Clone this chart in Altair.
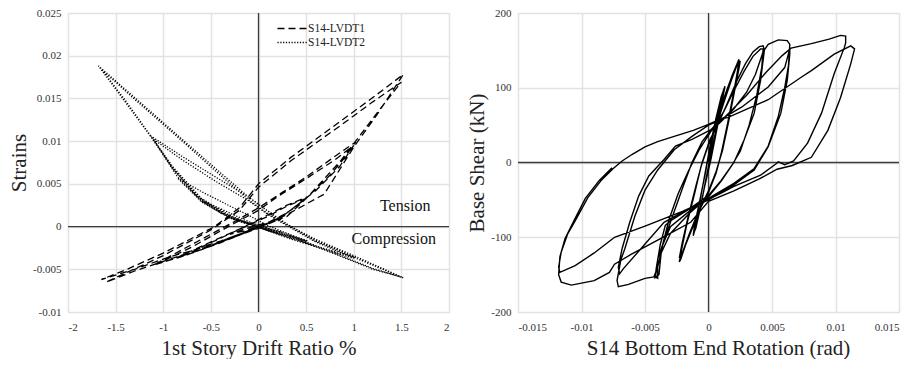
import altair as alt
import pandas as pd

# ---------------- data ----------------
series_names = ["S14-LVDT1", "S14-LVDT2"]

# LVDT1 (dashed): drift ratio %, strain
lvdt1 = [
    (0, 0), (0.1, 0.0003), (0.25, 0.001), (0.1, 0.0005), (0, 0.0002), (-0.15, -0.0003), (-0.3, -0.0009), (-0.15, -0.0005), (0, 0),
    (0.15, 0.0006), (0.3, 0.0016), (0.5, 0.0033), (0.3, 0.0024), (0.1, 0.0012), (-0.1, 0.0002), (-0.35, -0.0011), (-0.6, -0.0024), (-0.4, -0.0017), (-0.15, -0.0007), (0, -0.0001),
    (0.2, 0.0009), (0.35, 0.002), (0.52, 0.0035), (0.3, 0.0025), (0.05, 0.0011), (-0.2, -0.0003), (-0.5, -0.0018), (-0.85, -0.0036), (-0.6, -0.0027), (-0.3, -0.0014), (0, -0.0002),
    (0.25, 0.0012), (0.5, 0.0033), (0.75, 0.006), (0.9, 0.008), (1.02, 0.0099), (0.8, 0.0082), (0.5, 0.0058), (0.25, 0.004), (0, 0.0022), (-0.2, 0.0009), (-0.5, -0.0009), (-0.8, -0.0027), (-1.1, -0.0045), (-0.8, -0.0035), (-0.5, -0.0023), (-0.2, -0.0009), (0, -0.0001),
    (0.3, 0.0016), (0.6, 0.0042), (0.85, 0.007), (1.0, 0.0095), (0.8, 0.0078), (0.5, 0.0056), (0.2, 0.0035), (0, 0.0019), (-0.3, 0.0001), (-0.7, -0.0024), (-1.05, -0.0043), (-0.75, -0.0033), (-0.4, -0.0019), (0, -0.0001),
    (0.3, 0.0014), (0.69, 0.0038), (1.0, 0.0093), (1.25, 0.0132), (1.52, 0.0178), (1.2, 0.0151), (0.87, 0.0124), (0.34, 0.0081), (0, 0.005), (-0.2, 0.0022), (-0.46, 0.0), (-1.0, -0.0031), (-1.4, -0.0051), (-1.65, -0.0062), (-1.3, -0.005), (-0.95, -0.0036), (-0.5, -0.0022), (-0.2, -0.0009), (0, 0),
    (0.3, 0.0012), (0.52, 0.0035), (0.87, 0.0078), (1.32, 0.0144), (1.5, 0.0169), (1.2, 0.0146), (0.87, 0.0119), (0.34, 0.0077), (0, 0.0046), (-0.2, 0.0019), (-0.5, -0.0004), (-1.0, -0.0034), (-1.6, -0.0065), (-1.3, -0.0052), (-0.9, -0.0037), (-0.5, -0.0022), (0, 0),
]

# LVDT2 (dotted): drift ratio %, strain
lvdt2 = [
    (0, 0), (-0.15, 0.0004), (-0.3, 0.001), (-0.15, 0.0006), (0, 0.0002), (0.1, -0.0002), (0.25, -0.0007), (0.1, -0.0004), (0, 0),
    (-0.2, 0.0006), (-0.4, 0.0016), (-0.6, 0.003), (-0.4, 0.0021), (-0.15, 0.0008), (0, 0.0001), (0.25, -0.0007), (0.5, -0.0017), (0.3, -0.0011), (0, 0),
    (-0.3, 0.001), (-0.6, 0.0029), (-0.85, 0.0057), (-0.6, 0.0041), (-0.3, 0.0024), (-0.1, 0.0013), (0.1, 0.0001), (0.3, -0.0008), (0.52, -0.0017), (0.3, -0.001), (0, -0.0001),
    (-0.3, 0.0011), (-0.6, 0.003), (-0.85, 0.0058), (-1.13, 0.0106), (-0.8, 0.0082), (-0.45, 0.0058), (-0.11, 0.0035), (0.1, 0.0018), (0.3, 0.0003), (0.6, -0.0017), (1.02, -0.0036), (0.7, -0.0026), (0.35, -0.0014), (0, -0.0001),
    (-0.35, 0.0014), (-0.65, 0.0036), (-0.9, 0.0068), (-1.1, 0.0102), (-0.8, 0.0078), (-0.45, 0.0053), (-0.1, 0.003), (0.1, 0.0014), (0.3, 0.0001), (0.6, -0.0018), (1.0, -0.0037), (0.7, -0.0027), (0.35, -0.0015), (0, -0.0001),
    (-0.3, 0.0012), (-0.6, 0.0031), (-0.9, 0.0068), (-1.13, 0.0105), (-1.4, 0.0146), (-1.68, 0.0188), (-1.3, 0.0151), (-0.8, 0.0102), (-0.4, 0.0063), (-0.11, 0.0035), (0.1, 0.0018), (0.27, 0.0004), (0.6, -0.0015), (1.0, -0.0034), (1.5, -0.0059), (1.2, -0.005), (0.8, -0.0032), (0.4, -0.0015), (0, -0.0001),
    (-0.3, 0.0013), (-0.6, 0.0033), (-0.9, 0.007), (-1.15, 0.0109), (-1.4, 0.0148), (-1.64, 0.0183), (-1.3, 0.0149), (-0.8, 0.01), (-0.4, 0.006), (-0.1, 0.0031), (0.1, 0.0015), (0.3, 0.0002), (0.6, -0.0016), (1.0, -0.0036), (1.52, -0.006), (1.2, -0.0049), (0.8, -0.0031), (0.4, -0.0014), (0, 0),
]

# right panel: rotation (rad), base shear (kN)
rot_shear = [
    (0, 0), (0.0004, 40), (0.0009, 80), (0.0012, 98), (0.001, 80), (0.0006, 45), (0.0002, 12), (-0.0002, -22), (-0.0006, -58), (-0.001, -88), (-0.0012, -96), (-0.001, -80), (-0.0006, -45), (-0.0002, -8), (0.0002, 28),
    (0.0006, 60), (0.001, 88), (0.0013, 102), (0.0011, 85), (0.0007, 48), (0.0002, 5), (-0.0003, -32), (-0.0008, -72), (-0.0012, -98), (-0.0011, -84), (-0.0007, -52), (-0.0002, -10), (0.0002, 30),
    (0.0008, 66), (0.0014, 95), (0.0019, 118), (0.0023, 134), (0.0024, 138), (0.0023, 124), (0.002, 95), (0.0015, 52), (0.001, 12), (0.0006, -14), (0, -40), (-0.0006, -60), (-0.0012, -85), (-0.0018, -110), (-0.0022, -130), (-0.0023, -133), (-0.0021, -115), (-0.0017, -82), (-0.0011, -42), (-0.0006, -6), (0, 24), (0.0006, 48),
    (0.0012, 80), (0.0018, 110), (0.0022, 128), (0.0025, 136), (0.0024, 126), (0.0021, 100), (0.0016, 56), (0.0011, 16), (0.0006, -12), (0, -38), (-0.0008, -66), (-0.0015, -95), (-0.002, -118), (-0.0023, -128), (-0.0021, -110), (-0.0016, -72), (-0.001, -32), (-0.0005, 0), (0.0001, 30), (0.0008, 53),
    (0.0015, 80), (0.0022, 108), (0.0029, 132), (0.0035, 148), (0.004, 155), (0.0043, 156), (0.0044, 150), (0.0041, 110), (0.0036, 66), (0.0028, 30), (0.002, 0), (0.001, -24), (0, -44), (-0.0015, -62), (-0.003, -78), (-0.0034, -84), (-0.0038, -110), (-0.0041, -140), (-0.0042, -153), (-0.004, -155), (-0.004, -129), (-0.003, -80), (-0.002, -32), (-0.0013, 0), (-0.0005, 28), (0.0005, 50),
    (0.0012, 68), (0.002, 96), (0.0028, 122), (0.0035, 142), (0.0041, 152), (0.0043, 152), (0.0042, 128), (0.0038, 90), (0.0032, 50), (0.0025, 15), (0.0018, -5), (0.001, -25), (0, -46), (-0.0015, -68), (-0.003, -95), (-0.0037, -120), (-0.0041, -145), (-0.0042, -154), (-0.0039, -150), (-0.0037, -116), (-0.0031, -76), (-0.0024, -42), (-0.0016, -12), (-0.0007, 18), (0.0002, 42), (0.001, 55),
    (0.002, 72), (0.003, 94), (0.0037, 118), (0.0043, 148), (0.0047, 158), (0.0055, 164), (0.0062, 163), (0.0064, 158), (0.0063, 130), (0.006, 100), (0.0055, 62), (0.0047, 22), (0.0036, -8), (0.002, -28), (0, -48), (-0.0015, -65), (-0.003, -86), (-0.0036, -110), (-0.004, -140), (-0.0043, -153), (-0.005, -155), (-0.0063, -163), (-0.0071, -166), (-0.0072, -158), (-0.0069, -130), (-0.0066, -116), (-0.0058, -72), (-0.005, -37), (-0.004, -10), (-0.0027, 17), (-0.0013, 35), (0, 50), (0.0007, 55),
    (0.0026, 74), (0.0047, 101), (0.006, 127), (0.0064, 152), (0.0064, 145), (0.0062, 110), (0.0057, 66), (0.0047, 21), (0.0036, -10), (0.002, -30), (0, -50), (-0.002, -66), (-0.0035, -80), (-0.0051, -111), (-0.0067, -142), (-0.007, -149), (-0.0071, -140), (-0.0068, -115), (-0.0062, -80), (-0.0055, -45), (-0.0047, -18), (-0.0035, 4), (-0.0026, 22), (-0.0013, 31), (0.0002, 44), (0.001, 56),
    (0.003, 90), (0.0045, 120), (0.0058, 143), (0.0065, 153), (0.0081, 159), (0.0095, 165), (0.0104, 170), (0.0108, 169), (0.0108, 160), (0.0107, 154), (0.0099, 119), (0.0089, 66), (0.0078, 26), (0.0067, 2), (0.006, -3), (0.0055, 1), (0.0053, -2), (0.0041, -17), (0.002, -32), (0.001, -41), (-0.0006, -54), (-0.002, -65), (-0.005, -85), (-0.0074, -100), (-0.0077, -104), (-0.009, -121), (-0.0105, -138), (-0.0117, -147), (-0.0118, -140), (-0.0116, -120), (-0.0111, -96), (-0.0105, -78), (-0.0095, -47), (-0.0084, -23), (-0.0075, -8), (-0.0068, 2), (-0.006, 11), (-0.005, 21), (-0.004, 28), (-0.0027, 35), (-0.0012, 43), (0, 51), (0.0009, 58),
    (0.0015, 60), (0.0047, 84), (0.0073, 114), (0.0081, 123), (0.0099, 145), (0.0112, 156), (0.0115, 152), (0.0112, 132), (0.0104, 87), (0.0094, 43), (0.0081, 7), (0.0066, -4), (0.0054, -9), (0.004, -22), (0.002, -38), (0, -52), (-0.0014, -80), (-0.004, -104), (-0.0061, -123), (-0.0074, -136), (-0.0078, -147), (-0.009, -158), (-0.0108, -164), (-0.0116, -160), (-0.0118, -150), (-0.0117, -126), (-0.0113, -102), (-0.0106, -78), (-0.0097, -48), (-0.0086, -24), (-0.0076, -7),
]

x_ticks_left = [-2, -1.5, -1, -0.5, 0, 0.5, 1, 1.5, 2]
y_ticks_left = [-0.01, -0.005, 0, 0.005, 0.01, 0.015, 0.02, 0.025]
x_ticks_right = [-0.015, -0.01, -0.005, 0, 0.005, 0.01, 0.015]
y_ticks_right = [-200, -150, -100, -50, 0, 50, 100, 150, 200]

ann_labels = ["Tension", "Compression"]
ann_x = [1.54, 1.42]
ann_y = [0.0024, -0.0015]

# ---------------- tables ----------------
rows = []
for name, pts in zip(series_names, [lvdt1, lvdt2]):
    for i, (x, y) in enumerate(pts):
        rows.append({"series": name, "i": i, "x": x, "y": y})
df_left = pd.DataFrame(rows)
df_right = pd.DataFrame([{"i": i, "x": x, "y": y} for i, (x, y) in enumerate(rot_shear)])
df_ann = pd.DataFrame({"label": ann_labels, "x": ann_x, "y": ann_y})
df_zero = pd.DataFrame({"a": [0]})

FONT = "Liberation Serif"
LAB = "replace(format(datum.value, '~g'), '\u2212', '-')"
GRID = "#e2e2e2"


def xaxis(title, values, **kw):
    return alt.Axis(title=title, values=values, labelExpr=LAB, ticks=False, domain=False,
                    grid=True, gridColor=GRID, gridWidth=1.5, labelFont=FONT, labelFontSize=11,
                    labelColor="#333", labelPadding=9, titleFont=FONT, titleFontSize=21,
                    titleFontWeight="normal", titleColor="#222", titlePadding=5, **kw)


def yaxis(title, values, **kw):
    return alt.Axis(title=title, values=values, labelExpr=LAB, ticks=False, domain=False,
                    grid=True, gridColor=GRID, gridWidth=1.5, labelFont=FONT, labelFontSize=11,
                    labelColor="#333", labelPadding=7, titleFont=FONT, titleFontSize=21,
                    titleFontWeight="normal", titleColor="#222", titlePadding=3, **kw)


W, H = 381, 299

# ---------------- left panel ----------------
xl = alt.X("x:Q", scale=alt.Scale(domain=[-2, 2], nice=False, zero=False),
           axis=xaxis("1st Story Drift Ratio %", x_ticks_left))
yl = alt.Y("y:Q", scale=alt.Scale(domain=[-0.01, 0.025], nice=False, zero=False),
           axis=yaxis("Strains", y_ticks_left))

left_lines = alt.Chart(df_left).mark_line(color="black", strokeWidth=1.3).encode(
    x=xl, y=yl,
    strokeDash=alt.StrokeDash(
        "series:N",
        scale=alt.Scale(domain=series_names, range=[[7, 4], [1.2, 1.6]]),
        legend=alt.Legend(title=None, orient="none", legendX=216, legendY=7,
                          symbolType="M-2,0L2,0", symbolSize=225, symbolStrokeWidth=1.5,
                          symbolStrokeColor="black", labelFont=FONT, labelFontSize=11.5,
                          labelColor="#222", labelOffset=7, rowPadding=-1),
    ),
    order="i:Q",
)
left_vz = alt.Chart(df_zero).mark_rule(color="#3c3c3c", strokeWidth=1.3).encode(x=alt.datum(0))
left_hz = alt.Chart(df_zero).mark_rule(color="#3c3c3c", strokeWidth=1.3).encode(y=alt.datum(0))
left_txt = alt.Chart(df_ann).mark_text(font=FONT, fontSize=16, color="#111").encode(
    x="x:Q", y="y:Q", text="label:N")

left = alt.layer(left_vz, left_hz, left_lines, left_txt).properties(width=W, height=H)

# ---------------- right panel ----------------
xr = alt.X("x:Q", scale=alt.Scale(domain=[-0.015, 0.015], nice=False, zero=False),
           axis=xaxis("S14 Bottom End Rotation (rad)", x_ticks_right, titleX=200))
yr = alt.Y("y:Q", scale=alt.Scale(domain=[-200, 200], nice=False, zero=False),
           axis=yaxis("Base Shear (kN)", y_ticks_right))

right_line = alt.Chart(df_right).mark_line(color="black", strokeWidth=1.4).encode(
    x=xr, y=yr, order="i:Q")
right_vz = alt.Chart(df_zero).mark_rule(color="#3c3c3c", strokeWidth=1.3).encode(x=alt.datum(0))
right_hz = alt.Chart(df_zero).mark_rule(color="#3c3c3c", strokeWidth=1.3).encode(y=alt.datum(0))

right = alt.layer(right_vz, right_hz, right_line).properties(width=W, height=H)

chart = alt.hconcat(left, right, spacing=15).properties(
    padding={"left": 0, "top": -2, "right": 0, "bottom": 0}
).configure_view(stroke="#3a3a3a", strokeWidth=1.5).configure(background="white")

chart.save("out.html", embed_options={"renderer": "svg", "actions": False})
